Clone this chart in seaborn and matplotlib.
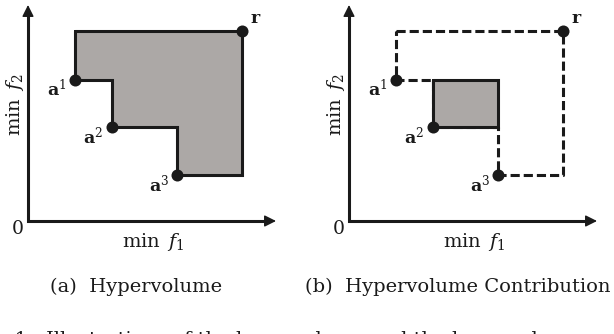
import matplotlib
matplotlib.use("Agg")
import matplotlib.pyplot as plt
import seaborn as sns
import pandas as pd

# ---- data (abstract objective-space units) ----
point_names = ["a1", "a2", "a3", "r"]
point_labels = [r"$\mathbf{a}^1$", r"$\mathbf{a}^2$", r"$\mathbf{a}^3$", r"$\mathbf{r}$"]
f1_values = [1.0, 1.78, 3.18, 4.55]
f2_values = [3.0, 2.0, 0.98, 4.04]
panel_captions = ["(a)  Hypervolume", "(b)  Hypervolume Contribution"]
x_axis_label = r"min $\,f_1$"
y_axis_label = r"min $\,f_2$"
origin_label = "0"
caption_text = "Fig. 1:  Illustrations of the hypervolume and the hypervolume contribution."

sns.set_theme(style="white")
SERIF = "DejaVu Serif"
plt.rcParams["font.family"] = [SERIF, "Liberation Serif"]
plt.rcParams["text.color"] = "black"
plt.rcParams["mathtext.fontset"] = "custom"
plt.rcParams["mathtext.rm"] = SERIF
plt.rcParams["mathtext.it"] = SERIF + ":italic"
plt.rcParams["mathtext.bf"] = SERIF + ":bold"

df = pd.DataFrame({"name": point_names, "f1": f1_values, "f2": f2_values, "label": point_labels})

W, H = 614, 334
U = 47.0  # pixels per unit
LW = 2.2
FILL = "#aca8a6"
FS = 13.5

fig = plt.figure(figsize=(W / 100, H / 100), dpi=100)

x1, x2, x3, xr = f1_values
y1, y2, y3, yr = f2_values
stair_x = [x1, xr, xr, x3, x3, x2, x2, x1, x1]
stair_y = [yr, yr, y3, y3, y2, y2, y1, y1, yr]
contrib_x = [x2, x3, x3, x2, x2]
contrib_y = [y1, y1, y2, y2, y1]


def make_axes(ox, oy):
    left, right, top, bottom = ox - 30, ox + 265, 0, 262
    ax = fig.add_axes([left / W, (H - bottom) / H, (right - left) / W, (bottom - top) / H])
    ax.set_xlim((left - ox) / U, (right - ox) / U)
    ax.set_ylim((oy - bottom) / U, (oy - top) / U)
    ax.axis("off")
    xmax = (276 - 28) / U
    ymax = (221 - 5) / U
    ax.plot([0, 0, xmax - 0.12], [ymax - 0.12, 0, 0], color="k", lw=LW,
            solid_joinstyle="miter", solid_capstyle="butt", clip_on=False)
    hd = dict(arrowstyle="-|>,head_length=0.5,head_width=0.25", color="k", lw=1,
              mutation_scale=14, shrinkA=0, shrinkB=0)
    ax.annotate("", xy=(xmax, 0), xytext=(xmax - 0.3, 0), arrowprops=hd, annotation_clip=False)
    ax.annotate("", xy=(0, ymax), xytext=(0, ymax - 0.3), arrowprops=hd, annotation_clip=False)
    ax.text(-10 / U, -8 / U, origin_label, ha="center", va="center", fontsize=FS, color="k")
    ax.text(125 / U, -21 / U, x_axis_label, ha="center", va="center", fontsize=FS + 0.5, color="k")
    ax.text(-13 / U, 117 / U, y_axis_label, ha="center", va="center", fontsize=FS + 0.5,
            rotation=90, color="k")
    return ax


def draw_points(ax):
    sns.scatterplot(data=df, x="f1", y="f2", ax=ax, color="k", s=75, edgecolor="k",
                    linewidth=0, zorder=5, legend=False, clip_on=False)
    for _, row in df.iterrows():
        if row["name"] == "r":
            off = (10, 9)
        else:
            off = (-13.5, -6.5)
        ax.annotate(row["label"], (row["f1"], row["f2"]), textcoords="offset points",
                    xytext=off, ha="center", va="center", fontsize=FS - 1, color="k")


# Panel (a): hypervolume
axa = make_axes(28, 221)
axa.fill(stair_x, stair_y, color=FILL, lw=0)
axa.plot(stair_x, stair_y, color="k", lw=LW, solid_joinstyle="miter")
draw_points(axa)

# Panel (b): hypervolume contribution
axb = make_axes(349, 221)
axb.plot(stair_x, stair_y, color="k", lw=LW, linestyle=(0, (3, 1.3)))
axb.fill(contrib_x, contrib_y, color=FILL, lw=0, zorder=3)
axb.plot(contrib_x, contrib_y, color="k", lw=LW, solid_joinstyle="miter", zorder=4)
draw_points(axb)

fig.text(136 / W, (H - 287) / H, panel_captions[0], ha="center", va="center", fontsize=14, color="k")
fig.text(458 / W, (H - 287) / H, panel_captions[1], ha="center", va="center", fontsize=14, color="k")
fig.text(-30 / W, (H - 331) / H, caption_text, ha="left", va="top", fontsize=14, color="k")

fig.savefig("out.png", dpi=100)
